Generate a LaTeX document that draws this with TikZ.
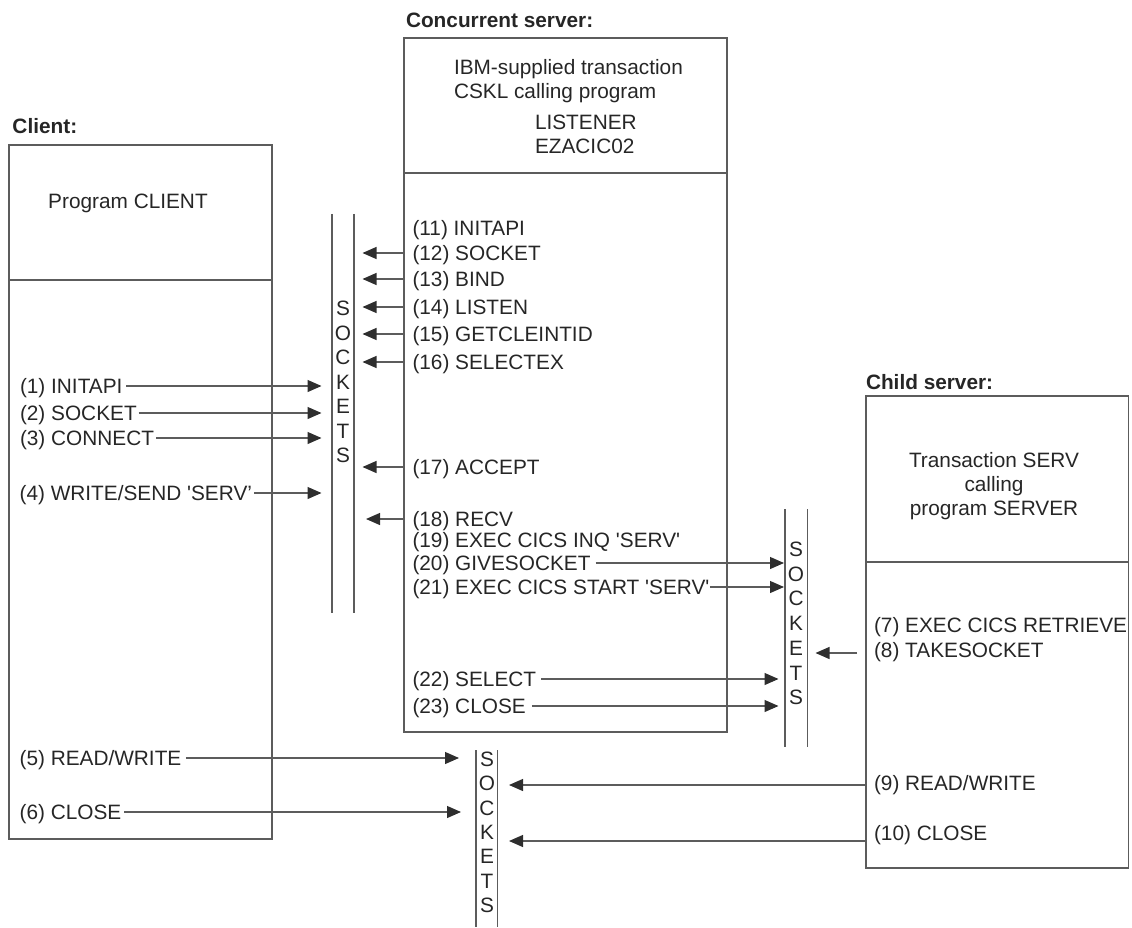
\documentclass[tikz,border=0pt]{standalone}
\usepackage{fontspec}
\setmainfont{Liberation Sans}
\usetikzlibrary{arrows.meta}
\definecolor{ink}{HTML}{262626}
\definecolor{rulec}{HTML}{5C5C5C}
\definecolor{tipc}{HTML}{2E2E2E}
\begin{document}
\begin{tikzpicture}[x=1pt,y=-1pt,
  every node/.style={font=\fontsize{20.8}{25}\selectfont, text=ink, inner sep=0pt, outer sep=0pt},
  lbl/.style={anchor=west, text height=15pt, text depth=0pt},
  title/.style={lbl, font=\fontsize{20.8}{25}\selectfont\bfseries},
  box/.style={draw=rulec, line width=1.2pt, rectangle, anchor=north west},
  rl/.style={draw=rulec, line width=1.2pt},
  arr/.style={rl, -{Triangle[length=14pt,width=12pt,color=tipc]}},
  sock/.style={rectangle},
  letter/.style={text height=15pt, text depth=0pt}
]
\useasboundingbox (0,0) rectangle (1132,928);

% titles
\node[title] (tclient) at (12.5,126) {Client:};
\node[title] (tconc) at (406,20) {Concurrent server:};
\node[title] (tchild) at (866,382) {Child server:};

% boxes
\node[box, minimum width=263pt, minimum height=694pt] (client) at (9,145) {};
\draw[rl] (client.north west) ++(0,135) coordinate (cdl) -- (client.north east |- cdl);
\node[box, minimum width=323pt, minimum height=694pt] (conc) at (404,38) {};
\draw[rl] (conc.north west) ++(0,135) coordinate (sdl) -- (conc.north east |- sdl);
\node[box, minimum width=262.6pt, minimum height=472pt] (child) at (866,396) {};
\draw[rl] (child.north west) ++(0,166) coordinate (hdl) -- (child.north east |- hdl);

% box headers
\node[anchor=center, text height=15pt, text depth=0pt] (pclient) at (128,201) {Program CLIENT};
\node[lbl] (h1) at (454,67) {IBM-supplied transaction};
\node[lbl] (h2) at (454,91) {CSKL calling program};
\node[lbl] (h3) at (535,122) {LISTENER};
\node[lbl] (h4) at (535,146) {EZACIC02};
\node[align=center, font=\fontsize{20.8}{24}\selectfont] (hchild) at (994,486) {Transaction SERV\\calling\\program SERVER};

% socket columns
\node[sock, minimum width=22pt, minimum height=399pt] (s1) at (343,413.5) {};
\node[sock, minimum width=22.5pt, minimum height=238pt] (s2) at (796.25,628) {};
\node[sock, minimum width=21.5pt, minimum height=177pt] (s3) at (486.75,838.5) {};
\foreach \s in {s1,s2,s3}
  \draw[rl] (\s.north west) -- (\s.south west) (\s.north east) -- (\s.south east);
\foreach \l [count=\i] in {S,O,C,K,E,T,S} {
  \node[letter] (s1l\i) at (343,{308+24.5*(\i-1)}) {\l};
  \node[letter] (s2l\i) at (796,{549+24.7*(\i-1)}) {\l};
  \node[letter] (s3l\i) at (487,{759+24.3*(\i-1)}) {\l};
}

% client labels
\node[lbl] (c1) at (20,386) {(1) INITAPI};
\node[lbl] (c2) at (20,413) {(2) SOCKET};
\node[lbl] (c3) at (20,438) {(3) CONNECT};
\node[lbl] (c4) at (19.6,493) {(4) WRITE/SEND \textquotesingle SERV’};
\node[lbl] (c5) at (19.6,758) {(5) READ/WRITE};
\node[lbl] (c6) at (19.6,812) {(6) CLOSE};

% concurrent labels
\node[lbl] (l11) at (412.5,228) {(11) INITAPI};
\node[lbl] (l12) at (412.5,253) {(12) SOCKET};
\node[lbl] (l13) at (412.5,279) {(13) BIND};
\node[lbl] (l14) at (412.5,307) {(14) LISTEN};
\node[lbl] (l15) at (412.5,334) {(15) GETCLEINTID};
\node[lbl] (l16) at (412.5,362) {(16) SELECTEX};
\node[lbl] (l17) at (412.5,467) {(17) ACCEPT};
\node[lbl] (l18) at (412.5,519) {(18) RECV};
\node[lbl] (l19) at (412.5,540) {(19) EXEC CICS INQ \textquotesingle SERV\textquotesingle};
\node[lbl] (l20) at (412.5,563) {(20) GIVESOCKET};
\node[lbl] (l21) at (412.5,587) {(21) EXEC CICS START \textquotesingle SERV\textquotesingle};
\node[lbl] (l22) at (412.5,679) {(22) SELECT};
\node[lbl] (l23) at (412.5,706) {(23) CLOSE};

% child labels
\node[lbl] (k7) at (874,625) {(7) EXEC CICS RETRIEVE};
\node[lbl] (k8) at (874,650) {(8) TAKESOCKET};
\node[lbl] (k9) at (874,783) {(9) READ/WRITE};
\node[lbl] (k10) at (874,833) {(10) CLOSE};

% client -> sockets 1
\draw[arr, shorten <=4pt, shorten >=10.5pt] (c1.east) -- (c1.east -| s1.west);
\draw[arr, shorten <=2pt, shorten >=10.5pt] (c2.east) -- (c2.east -| s1.west);
\draw[arr, shorten <=2pt, shorten >=10.5pt] (c3.east) -- (c3.east -| s1.west);
\draw[arr, shorten <=2pt, shorten >=10.5pt] (c4.east) -- (c4.east -| s1.west);
% client -> sockets 3
\draw[arr, shorten <=4.5pt, shorten >=17pt] (c5.east) -- (c5.east -| s3.west);
\draw[arr, shorten <=3pt, shorten >=15pt] (c6.east) -- (c6.east -| s3.west);

% concurrent -> sockets 1
\foreach \n in {l12,l13,l14,l15,l16,l17}
  \draw[arr, shorten >=8.5pt] (\n.west -| conc.west) -- (\n.west -| s1.east);
\draw[arr, shorten >=12pt] (l18.west -| conc.west) -- (l18.west -| s1.east);

% concurrent -> sockets 2
\draw[arr, shorten <=5pt, shorten >=1pt] (l20.east) -- (l20.east -| s2.west);
\draw[arr, shorten <=0.5pt, shorten >=1pt] (l21.east) -- (l21.east -| s2.west);
\draw[arr, shorten <=5pt, shorten >=6.5pt] (l22.east) -- (l22.east -| s2.west);
\draw[arr, shorten <=6pt, shorten >=6.5pt] (l23.east) -- (l23.east -| s2.west);

% child -> sockets
\draw[arr, shorten <=9pt, shorten >=8pt] ([yshift=-3pt]k8.west -| child.west) -- ([yshift=-3pt]k8.west -| s2.east);
\draw[arr, shorten >=11.5pt] ([yshift=-2pt]k9.west -| child.west) -- ([yshift=-2pt]k9.west -| s3.east);
\draw[arr, shorten >=11.5pt] ([yshift=-8pt]k10.west -| child.west) -- ([yshift=-8pt]k10.west -| s3.east);
\end{tikzpicture}
\end{document}
